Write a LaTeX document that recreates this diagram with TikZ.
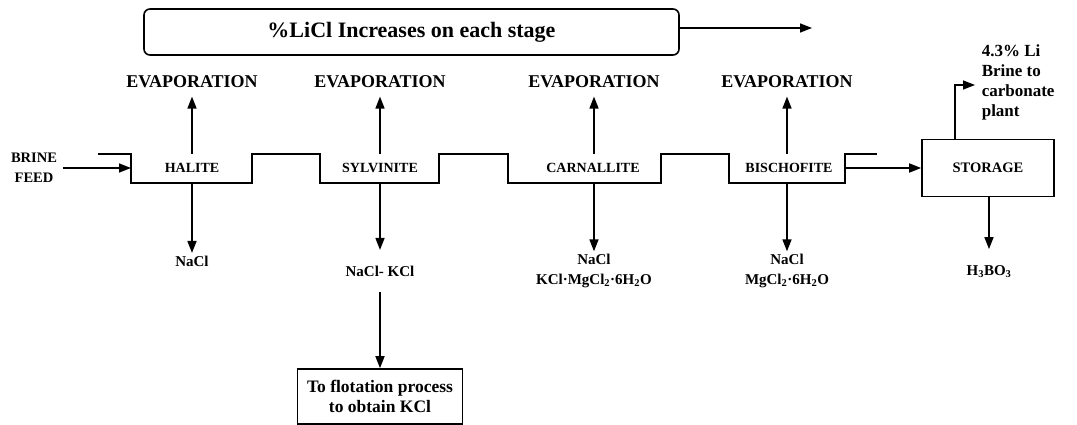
\documentclass[tikz,border=0pt]{standalone}
\usepackage{fontspec}
\setmainfont{Liberation Serif}
\usetikzlibrary{arrows.meta}
\begin{document}
\begin{tikzpicture}[x=1pt,y=-1pt,line width=1.6pt,
  arr/.style={-{Triangle[length=12pt,width=9pt]}},
  titlebox/.style={draw,rounded corners=6pt,minimum width=535pt,minimum height=46pt,font=\bfseries\fontsize{22}{26}\selectfont},
  evap/.style={font=\bfseries\fontsize{18}{20}\selectfont,inner sep=4pt,outer sep=4.5pt},
  pondlbl/.style={font=\bfseries\fontsize{14}{16}\selectfont,inner sep=1pt},
  prod/.style={font=\bfseries\fontsize{15}{20}\selectfont,align=center,inner xsep=1pt,inner ysep=2pt},
  note/.style={font=\bfseries\fontsize{17}{20}\selectfont,align=left,inner sep=1pt},
  box/.style={draw,font=\bfseries\fontsize{14.5}{16}\selectfont},
  fbox/.style={draw,font=\bfseries\fontsize{17.5}{20}\selectfont,align=center},
]
\useasboundingbox (0,0) rectangle (1077,425);

% title and trend arrow
\node[titlebox] (title) at (411.5,32) {\%LiCl Increases on each stage};
\coordinate (tend) at (812,28);
\draw[arr] (title.east |- tend) -- (tend);

% pond profile
\draw (98,154) -- (131,154) -- (131,183) -- (252,183) -- (252,154) -- (320,154)
  -- (320,183) -- (439,183) -- (439,154) -- (508,154) -- (508,183) -- (661,183)
  -- (661,154) -- (729,154) -- (729,183) -- (845,183) -- (845,154) -- (877,154);

% pond labels
\node[pondlbl] (hal) at (192,168) {HALITE};
\node[pondlbl] (syl) at (380,168) {SYLVINITE};
\node[pondlbl] (car) at (593,168) {CARNALLITE};
\node[pondlbl] (bis) at (789,168) {BISCHOFITE};

% evaporation labels
\node[evap] (e1) at (192,82) {EVAPORATION};
\node[evap] (e2) at (380,82) {EVAPORATION};
\node[evap] (e3) at (594,82) {EVAPORATION};
\node[evap] (e4) at (787,82) {EVAPORATION};

% pond top / bottom points
\coordinate (ht) at (192,154); \coordinate (hb) at (192,183);
\coordinate (st) at (380,154); \coordinate (sb) at (380,183);
\coordinate (ct) at (594,154); \coordinate (cb) at (594,183);
\coordinate (bt) at (787,154); \coordinate (bb) at (787,183);

\draw[arr] (ht) -- (e1.south);
\draw[arr] (st) -- (e2.south);
\draw[arr] (ct) -- (e3.south);
\draw[arr] (bt) -- (e4.south);

% products
\node[prod] (p1) at (192,261) {NaCl};
\node[prod,inner ysep=15pt] (p2) at (380,271) {NaCl- KCl};
\node[prod] (p3) at (594,271) {NaCl\\KCl·MgCl\textsubscript{2}·6H\textsubscript{2}O};
\node[prod] (p4) at (787,271) {NaCl\\MgCl\textsubscript{2}·6H\textsubscript{2}O};

\draw[arr] (hb) -- (p1.north);
\draw[arr] (sb) -- (p2.north);
\draw[arr] (cb) -- (p3.north);
\draw[arr] (bb) -- (p4.north);

% flotation box
\node[fbox,minimum width=165pt,minimum height=55pt] (flot) at (380,396.5) {To flotation process\\to obtain KCl};
\draw[arr] (p2.south) -- (flot.north);

% brine feed
\node[font=\bfseries\fontsize{14.5}{20}\selectfont,align=center,inner xsep=5pt] (brine) at (34,168) {BRINE\\FEED};
\coordinate (hin) at (131,168);
\draw[arr] (brine.east) -- (hin);

% storage
\node[box,minimum width=132pt,minimum height=57pt] (stor) at (988,168) {STORAGE};
\coordinate (bout) at (845,168);
\draw[arr] (bout) -- (stor.west);

\node[prod,inner ysep=16pt] (p5) at (989,272) {H\textsubscript{3}BO\textsubscript{3}};
\draw[arr] (stor.south -| p5) -- (p5.north);

\node[note,anchor=west] (li) at (980,82) {4.3\% Li\\Brine to\\carbonate\\plant};
\coordinate (liin) at (975,85);
\draw[arr] ([xshift=-33pt]stor.north) |- (liin);
\end{tikzpicture}
\end{document}
